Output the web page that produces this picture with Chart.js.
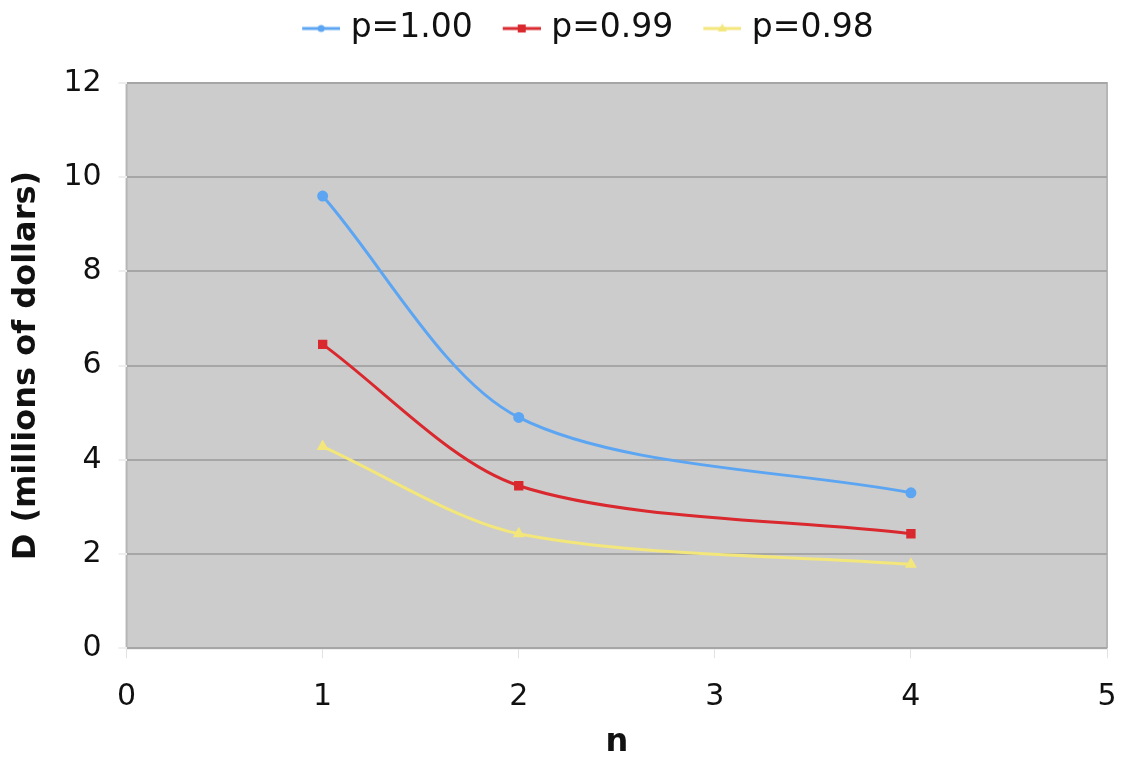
<!DOCTYPE html>
<html>
<head>
<meta charset="utf-8">
<script src="https://cdn.jsdelivr.net/npm/chart.js@4/dist/chart.umd.min.js"></script>
<style>
  body { margin: 0; background: #fff; }
  #wrap { width: 1126px; height: 759px; }
</style>
</head>
<body>
<div id="wrap"><canvas id="myChart" width="1126" height="759"></canvas></div>
<script>
// values
const nValues = [1, 2, 4];
const p100 = [9.6, 4.9, 3.3];
const p099 = [6.45, 3.45, 2.43];
const p098 = [4.28, 2.43, 1.78];
const seriesLabels = ['p=1.00', 'p=0.99', 'p=0.98'];
const xTicks = [0, 1, 2, 3, 4, 5];
const yTicks = [0, 2, 4, 6, 8, 10, 12];

const colors = ['#5ca5f2', '#d9282e', '#f3e67a'];
const markers = ['circle', 'rect', 'triangle'];
const fontFamily = '"DejaVu Sans", Verdana, sans-serif';

function toPoints(ys) {
  return nValues.map((x, i) => ({ x: x, y: ys[i] }));
}

// line + marker image for the legend (blank room on the left acts as spacing)
function legendIcon(color, style) {
  const c = document.createElement('canvas');
  c.width = 72; c.height = 14;
  const g = c.getContext('2d');
  g.strokeStyle = color;
  g.lineWidth = 3;
  g.beginPath();
  g.moveTo(34, 7); g.lineTo(72, 7);
  g.stroke();
  g.fillStyle = color;
  const cx = 53;
  if (style == 'rect') {
    g.fillRect(cx - 4, 3, 8, 8);
  } else if (style == 'triangle') {
    g.beginPath();
    g.moveTo(cx, 2); g.lineTo(cx + 4.5, 10); g.lineTo(cx - 4.5, 10);
    g.closePath(); g.fill();
  } else {
    g.beginPath();
    g.arc(cx, 7, 3.5, 0, Math.PI * 2);
    g.fill();
  }
  return c;
}

const plotBackground = {
  id: 'plotBackground',
  beforeDraw(chart) {
    const a = chart.chartArea;
    const ctx = chart.ctx;
    ctx.save();
    ctx.fillStyle = '#cccccc';
    ctx.fillRect(a.left, a.top, a.right - a.left, a.bottom - a.top);
    ctx.strokeStyle = '#b6b6b6';
    ctx.lineWidth = 2;
    ctx.strokeRect(a.left, a.top, a.right - a.left, a.bottom - a.top);
    ctx.restore();
  }
};

// extra room under the legend, and nudge the legend row a bit to the right
const legendMargin = {
  id: 'legendMargin',
  beforeInit(chart) {
    const fit = chart.legend.fit;
    chart.legend.fit = function () {
      fit.bind(chart.legend)();
      this.height += 28;
      if (this.lineWidths) this.lineWidths[0] -= 34;
    };
  }
};

const allSeries = [p100, p099, p098];
const datasets = allSeries.map((ys, i) => ({
  label: seriesLabels[i],
  data: toPoints(ys),
  borderColor: colors[i],
  backgroundColor: colors[i],
  borderWidth: 3,
  pointStyle: markers[i],
  pointRadius: i == 1 ? 4.5 : 4,
  tension: 0.3
}));

const ctx = document.getElementById('myChart');
const myChart = new Chart(ctx, {
  type: 'line',
  data: { datasets: datasets },
  plugins: [plotBackground, legendMargin],
  options: {
    responsive: false,
    animation: false,
    layout: { padding: { left: 7, right: 19, top: 10, bottom: 10 } },
    plugins: {
      tooltip: { enabled: false },
      legend: {
        position: 'top',
        labels: {
          color: '#111',
          font: { family: fontFamily, size: 33 },
          usePointStyle: true,
          pointStyleWidth: 60,
          padding: 2,
          generateLabels(chart) {
            return chart.data.datasets.map((ds, i) => ({
              text: ds.label,
              pointStyle: legendIcon(colors[i], markers[i]),
              fillStyle: colors[i],
              strokeStyle: colors[i],
              lineWidth: 0,
              datasetIndex: i,
              fontColor: '#111'
            }));
          }
        }
      }
    },
    scales: {
      x: {
        type: 'linear',
        min: 0,
        max: 5,
        afterBuildTicks(axis) { axis.ticks = xTicks.map(v => ({ value: v })); },
        afterFit(axis) { axis.paddingRight = 10; },
        grid: { drawOnChartArea: false, color: '#e2e2e2', tickLength: 10 },
        border: { display: false },
        ticks: { color: '#111', font: { family: fontFamily, size: 30 }, padding: 21 },
        title: {
          display: true, text: 'n', color: '#111',
          font: { family: fontFamily, size: 32, weight: 'bold', lineHeight: 0.4 },
          padding: { top: 0, bottom: 0 }
        }
      },
      y: {
        min: 0,
        max: 12,
        afterBuildTicks(axis) { axis.ticks = yTicks.map(v => ({ value: v })); },
        grid: { color: '#a6a6a6', lineWidth: 2, tickLength: 8, tickColor: '#eeeeee' },
        border: { display: false },
        ticks: { color: '#111', font: { family: fontFamily, size: 30 }, padding: 17 },
        title: {
          display: true, text: 'D (millions of dollars)', color: '#111',
          font: { family: fontFamily, size: 32, weight: 'bold' }, padding: { top: 0, bottom: 1 }
        }
      }
    }
  }
});
</script>
</body>
</html>
